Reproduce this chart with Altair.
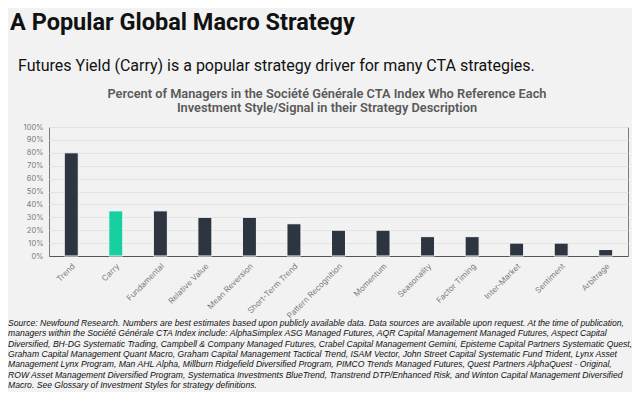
import altair as alt
import pandas as pd

styles = ["Trend", "Carry", "Fundamental", "Relative Value", "Mean Reversion",
          "Short-Term Trend", "Pattern Recognition", "Momentum", "Seasonality",
          "Factor Timing", "Inter-Market", "Sentiment", "Arbitrage"]
percents = [80, 35, 35, 30, 30, 25, 20, 20, 15, 15, 10, 10, 5]
highlight = ["Carry"]
y_ticks = [0, 10, 20, 30, 40, 50, 60, 70, 80, 90, 100]

main_title = "A Popular Global Macro Strategy"
subtitle = "Futures Yield (Carry) is a popular strategy driver for many CTA strategies."
chart_title = ["Percent of Managers in the Société Générale CTA Index Who Reference Each",
               "Investment Style/Signal in their Strategy Description"]
footnote = [
    "Source: Newfound  Research.  Numbers are best estimates based upon publicly available data.  Data sources are available upon request.  At the time of publication,",
    "managers  within the Société Générale CTA Index include: AlphaSimplex ASG Managed  Futures, AQR Capital Management  Managed  Futures, Aspect Capital",
    "Diversified, BH-DG Systematic Trading, Campbell & Company Managed Futures, Crabel Capital Management  Gemini, Episteme Capital Partners Systematic Quest,",
    "Graham Capital Management  Quant Macro, Graham Capital Management  Tactical Trend, ISAM Vector, John Street Capital Systematic Fund Trident, Lynx Asset",
    "Management  Lynx Program, Man AHL Alpha, Millburn Ridgefield Diversified Program, PIMCO Trends Managed Futures, Quest Partners AlphaQuest - Original,",
    "ROW Asset Management  Diversified Program, Systematica Investments BlueTrend, Transtrend DTP/Enhanced Risk, and Winton Capital Management  Diversified",
    "Macro.  See Glossary of Investment Styles for strategy definitions.",
]

df = pd.DataFrame({"style": styles, "pct": percents})
df["hl"] = df["style"].isin(highlight)

W, H = 579, 129

bars = alt.Chart(df).mark_bar(width=14, stroke="#f7f7f7", strokeWidth=1).encode(
    x=alt.X("style:N", sort=styles,
            scale=alt.Scale(paddingInner=0, paddingOuter=0),
            axis=alt.Axis(title=None, labelAngle=-45, labelFontSize=8,
                          labelColor="#7a7a7a", labelFont="Inter",
                          ticks=False, domainColor="#555555", domainWidth=1.2,
                          labelPadding=6)),
    y=alt.Y("pct:Q", scale=alt.Scale(domain=[0, 100], nice=False),
            axis=alt.Axis(title=None, values=y_ticks, labelExpr="datum.value + '%'",
                          labelFontSize=7.5, labelColor="#7a7a7a", labelFont="Inter",
                          ticks=False, domain=False, labelPadding=6,
                          gridColor="#e2e2e2", gridWidth=1)),
    color=alt.condition(alt.datum.hl, alt.value("#17cf9f"), alt.value("#2d3540")),
)

one = pd.DataFrame({"a": [0]})

t_main = alt.Chart(one).mark_text(
    align="left", baseline="alphabetic", font="Roboto", fontWeight=700,
    fontSize=23.5, color="#111111"
).encode(x=alt.value(-39), y=alt.value(-97), text=alt.value(main_title))

t_sub = alt.Chart(one).mark_text(
    align="left", baseline="alphabetic", font="Roboto", fontWeight=400,
    fontSize=16, color="#111111"
).encode(x=alt.value(-31), y=alt.value(-56), text=alt.value(subtitle))

t_chart = alt.Chart(one).mark_text(
    align="center", baseline="alphabetic", font="Roboto", fontWeight=600,
    fontSize=12.8, color="#595959", lineHeight=14
).encode(x=alt.value(278), y=alt.value(-29), text=alt.value(chart_title))

t_foot = alt.Chart(one).mark_text(
    align="left", baseline="alphabetic", font="Liberation Sans", fontStyle="italic",
    fontSize=8.6, color="#111111", lineHeight=10.3
).encode(x=alt.value(-41), y=alt.value(199), text=alt.value(footnote))

chart = alt.layer(bars, t_main, t_sub, t_chart, t_foot).properties(
    width=W, height=H,
    background="#f2f2f2",
    padding={"left": 41, "top": 119, "right": 4, "bottom": 136},
    autosize=alt.AutoSizeParams(type="none"),
).configure_view(stroke="#7a7a7a", strokeWidth=1)

chart.save("out.html", embed_options={"renderer": "svg", "actions": False})
